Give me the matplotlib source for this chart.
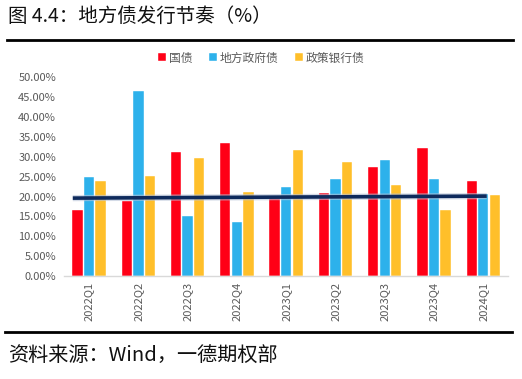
import matplotlib
matplotlib.use("Agg")
import matplotlib.pyplot as plt
import numpy as np
from matplotlib.ticker import FuncFormatter

plt.rcParams['font.family'] = ['Noto Sans CJK SC', 'DejaVu Sans']

categories = ['2022Q1', '2022Q2', '2022Q3', '2022Q4', '2023Q1', '2023Q2', '2023Q3', '2023Q4', '2024Q1']
guozhai = [16.6, 18.8, 31.1, 33.4, 19.8, 20.9, 27.5, 32.1, 24.0]
difang = [24.8, 46.6, 15.1, 13.7, 22.5, 24.4, 29.1, 24.4, 20.7]
zhengce = [23.8, 25.1, 29.8, 21.2, 31.8, 28.8, 23.0, 16.5, 20.4]
series_names = ['国债', '地方政府债', '政策银行债']
trend_x = [-0.33, 8.07]
trend_y = [19.6, 20.1]

colors = ['#FF0016', '#2DB1EB', '#FFBF2A']

fig = plt.figure(figsize=(5.22, 3.79), dpi=100)
ax = fig.add_axes([0.1234, 0.2718, 0.8496, 0.5242])

x = np.arange(len(categories))
w = 0.21
gap = 0.235
for i, (vals, c, n) in enumerate(zip([guozhai, difang, zhengce], colors, series_names)):
    ax.bar(x + (i - 1) * gap, vals, width=w, color=c, label=n, edgecolor='#ffffff', linewidth=0.3, zorder=2)

ax.plot(trend_x, trend_y, color='#b8c4d8', linewidth=4.5, solid_capstyle='butt', zorder=3, alpha=0.6)
ax.plot(trend_x, trend_y, color='#0E2A5C', linewidth=2.6, solid_capstyle='butt', zorder=4)

ax.set_xlim(-0.5, 8.5)
ax.set_ylim(0, 50)
ax.set_yticks(np.arange(0, 50.1, 5))
ax.yaxis.set_major_formatter(FuncFormatter(lambda v, p: f"{v:.2f}%"))
ax.set_xticks(x)
ax.set_xticklabels(categories, rotation=90)
ax.tick_params(axis='both', length=0, labelsize=8, colors='#595959', labelcolor='#595959')
ax.tick_params(axis='x', pad=4)
ax.tick_params(axis='y', pad=6)
for s in ['top', 'right', 'left']:
    ax.spines[s].set_visible(False)
ax.spines['bottom'].set_color('#D9D9D9')
ax.spines['bottom'].set_linewidth(1)

leg = fig.legend(loc='center', bbox_to_anchor=(0.5, 0.847), ncol=3, frameon=False,
                 fontsize=8.5, handlelength=0.7, handleheight=0.7, handletextpad=0.2,
                 columnspacing=1.4)
for t in leg.get_texts():
    t.set_color('#595959')

fig.text(8 / 522, 1 - 16 / 379, '图 4.4：地方债发行节奏（%）', fontsize=14, va='center', ha='left', color='#111111')
fig.add_artist(plt.Line2D([7 / 522, 513 / 522], [1 - 40 / 379, 1 - 40 / 379], color='black', linewidth=2))
fig.add_artist(plt.Line2D([5 / 522, 512 / 522], [1 - 332 / 379, 1 - 332 / 379], color='black', linewidth=2))
fig.text(8 / 522, 1 - 356 / 379, '资料来源：Wind，一德期权部', fontsize=14.5, va='center', ha='left', color='#111111')

fig.savefig('out.png', dpi=100)
